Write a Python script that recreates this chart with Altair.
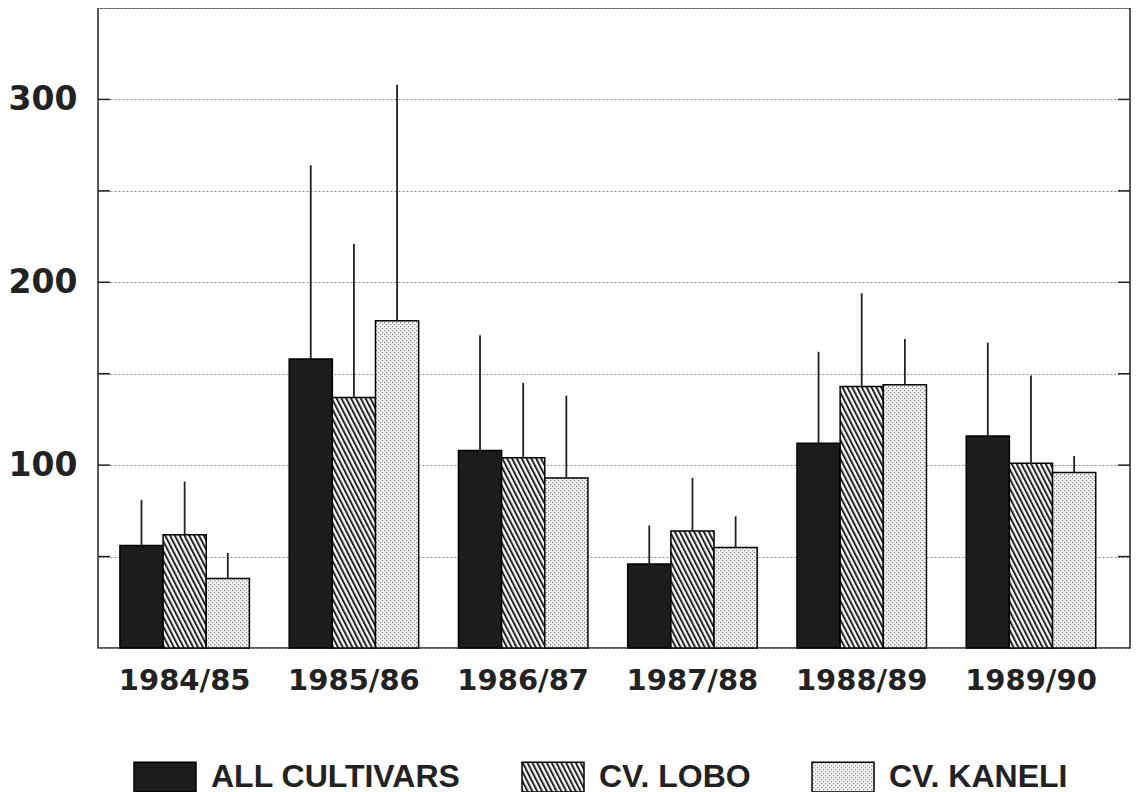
import altair as alt
import pandas as pd

# ---- data ----
years = ["1984/85", "1985/86", "1986/87", "1987/88", "1988/89", "1989/90"]
series_names = ["ALL CULTIVARS", "CV. LOBO", "CV. KANELI"]
all_mean = [56, 158, 108, 46, 112, 116]
all_top = [81, 264, 171, 67, 162, 167]
lobo_mean = [62, 137, 104, 64, 143, 101]
lobo_top = [91, 221, 145, 93, 194, 149]
kaneli_mean = [38, 179, 93, 55, 144, 96]
kaneli_top = [52, 308, 138, 72, 169, 105]
tick_values = [50, 100, 150, 200, 250, 300]
fills = ["#1c1c1c", "url(#hatch)", "url(#dots)"]

rows = []
for name, means, tops in zip(series_names, [all_mean, lobo_mean, kaneli_mean],
                             [all_top, lobo_top, kaneli_top]):
    for y, m, t in zip(years, means, tops):
        rows.append({"year": y, "series": name, "mean": m, "top": t})
df = pd.DataFrame(rows)
ticks_df = pd.DataFrame({"tick": tick_values})

W, H = 1032, 640

x_enc = alt.X("year:N", sort=years, title=None,
              scale=alt.Scale(paddingInner=0.235, paddingOuter=0.166, align=0.39),
              axis=alt.Axis(labelAngle=0, ticks=False, domain=False,
                            labelFont="DejaVu Sans", labelFontWeight="bold",
                            labelFontSize=29, labelColor="#222", labelPadding=18))
xoff = alt.XOffset("series:N", sort=series_names, scale=alt.Scale(paddingInner=0))
y_scale = alt.Scale(domain=[0, 350], nice=False, zero=True)

bars = alt.Chart(df).mark_bar(stroke="black", strokeWidth=1.5).encode(
    x=x_enc,
    xOffset=xoff,
    y=alt.Y("mean:Q", scale=y_scale, title=None,
            axis=alt.Axis(values=[0, 50, 100, 150, 200, 250, 300, 350],
                          labelExpr="(datum.value % 100 == 0 && datum.value > 0 && datum.value < 350) ? datum.label : ''",
                          ticks=False, domain=False, grid=True,
                          gridColor="#8c8c8c", gridDash=[2, 2], gridWidth=1,
                          labelFont="DejaVu Sans", labelFontWeight="bold",
                          labelFontSize=33, labelColor="#222", labelPadding=21)),
    color=alt.Color("series:N", sort=series_names,
                    scale=alt.Scale(domain=series_names, range=fills),
                    legend=alt.Legend(title=None, orient="none", direction="horizontal",
                                      legendX=35, legendY=737,
                                      symbolType="M-1,-0.48H1V0.48H-1Z", symbolSize=3844,
                                      symbolStrokeColor="black", symbolStrokeWidth=1.5,
                                      symbolOpacity=1,
                                      labelFont="Liberation Sans",
                                      labelFontWeight="bold", labelFontSize=32,
                                      labelColor="#222", labelOffset=14, labelLimit=0,
                                      columnPadding=58)),
)

errs = alt.Chart(df).mark_rule(color="#222", strokeWidth=1.8).encode(
    x=x_enc,
    xOffset=xoff,
    y=alt.Y("mean:Q", scale=y_scale, title=None),
    y2="top:Q",
)

left_ticks = alt.Chart(ticks_df).mark_rule(color="#222", strokeWidth=1.5).encode(
    y=alt.Y("tick:Q", scale=y_scale, title=None),
    x=alt.value(0), x2=alt.value(12),
)
right_ticks = alt.Chart(ticks_df).mark_rule(color="#222", strokeWidth=1.5).encode(
    y=alt.Y("tick:Q", scale=y_scale, title=None),
    x=alt.value(W - 12), x2=alt.value(W),
)

chart = alt.layer(bars, errs, left_ticks, right_ticks).properties(
    width=W, height=H,
    padding={"left": 0, "top": 0, "right": 0, "bottom": 0},
    background="white",
).configure_view(stroke="#222", strokeWidth=1.5)

# pattern fills for the hatched / stippled bars
DEFS = """<svg width="0" height="0" style="position:absolute">
<defs>
<pattern id="hatch" patternUnits="userSpaceOnUse" width="4.3" height="10" patternTransform="rotate(-27)">
<rect width="4.3" height="10" fill="#ffffff"/>
<rect x="0" y="0" width="2.0" height="10" fill="#222222"/>
</pattern>
<pattern id="dots" patternUnits="userSpaceOnUse" width="4" height="4">
<rect width="4" height="4" fill="#f3f3f3"/>
<rect x="0" y="0" width="1.2" height="1.2" fill="#8a8a8a"/>
<rect x="2" y="2" width="1.2" height="1.2" fill="#8a8a8a"/>
</pattern>
</defs>
</svg>"""

try:
    from altair.utils import html as _html

    class _PatternTemplate:
        def __init__(self, base):
            self.base = base

        def render(self, *args, **kwargs):
            out = self.base.render(*args, **kwargs)
            if "<body>" in out:
                return out.replace("<body>", "<body>\n" + DEFS, 1)
            return DEFS + out

    _html.TEMPLATES["standard"] = _PatternTemplate(_html.TEMPLATES["standard"])
except Exception:
    pass

chart.save("out.html", embed_options={"renderer": "svg", "actions": False})
